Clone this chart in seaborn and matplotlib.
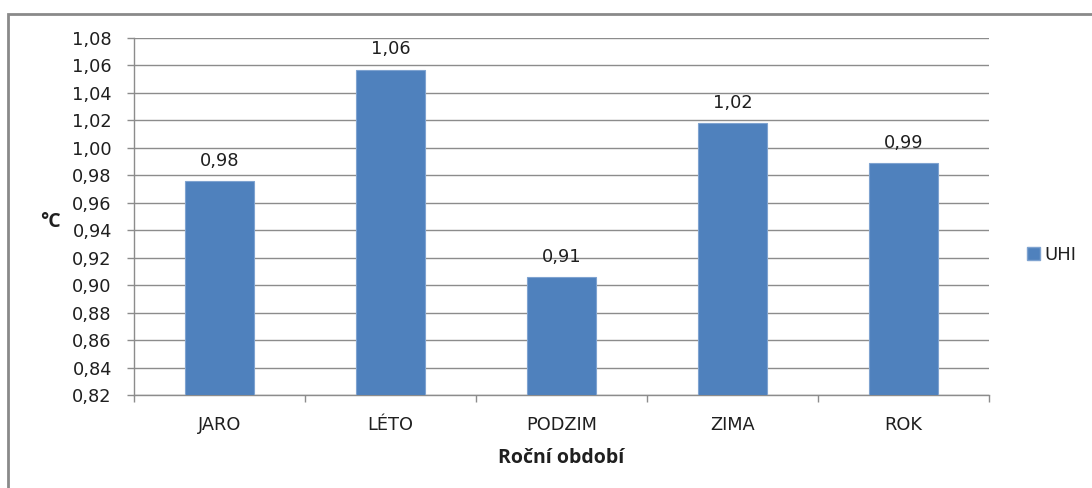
import matplotlib
matplotlib.use("Agg")
import matplotlib.pyplot as plt
import matplotlib.patches as mpatches
from matplotlib.ticker import FixedLocator, FuncFormatter
import seaborn as sns
import pandas as pd

# Seasonal urban heat island intensity (°C)
seasons = ["JARO", "LÉTO", "PODZIM", "ZIMA", "ROK"]
uhi_values = [0.976, 1.057, 0.906, 1.018, 0.989]
series_name = "UHI"
y_ticks = [0.82, 0.84, 0.86, 0.88, 0.90, 0.92, 0.94, 0.96, 0.98, 1.00, 1.02, 1.04, 1.06, 1.08]

df = pd.DataFrame({"season": seasons, "value": uhi_values})

sns.set_theme(style="white")
plt.rcParams["font.family"] = ["DejaVu Sans"]

BAR = "#4F81BD"
GRID = "#8C8C8C"
TEXT = "#1f1f1f"
FS = 12.8

fig = plt.figure(figsize=(10.92, 4.88), dpi=100)
ax = fig.add_axes([0.1227, 0.1906, 0.7830, 0.7316])

sns.barplot(data=df, x="season", y="value", color=BAR, width=0.4,
            saturation=1, edgecolor="#7FA3D0", linewidth=0.8, ax=ax, zorder=3)

ax.set_ylim(y_ticks[0], y_ticks[-1])
ax.set_xlim(-0.5, len(seasons) - 0.5)
ax.yaxis.set_major_locator(FixedLocator(y_ticks))
ax.yaxis.set_major_formatter(FuncFormatter(lambda v, p: f"{v:.2f}".replace(".", ",")))
ax.yaxis.grid(True, color=GRID, linewidth=1.0, zorder=0)
ax.set_axisbelow(True)

for side in ["top", "right"]:
    ax.spines[side].set_visible(False)
for side in ["left", "bottom"]:
    ax.spines[side].set_color(GRID)
    ax.spines[side].set_linewidth(1.0)

ax.tick_params(axis="y", which="major", left=True, length=5, width=1, color=GRID,
               pad=11, labelsize=FS, labelcolor=TEXT)
# category ticks sit between the bars
ax.xaxis.set_minor_locator(FixedLocator([i - 0.5 for i in range(len(seasons) + 1)]))
ax.tick_params(axis="x", which="minor", bottom=True, length=5, width=1, color=GRID)
ax.tick_params(axis="x", which="major", bottom=False, length=0, pad=15,
               labelsize=FS, labelcolor=TEXT)

# value labels above bars
for i, v in enumerate(uhi_values):
    ax.annotate(f"{v:.2f}".replace(".", ","), (i, v), xytext=(0, 8),
                textcoords="offset points", ha="center", va="bottom",
                fontsize=FS, color=TEXT)

ax.set_xlabel("Roční období", fontsize=14, fontweight="bold", color=TEXT,
              family=["Open Sans", "DejaVu Sans"], va="center")
ax.xaxis.set_label_coords(0.5, -0.176)
ax.set_ylabel("°C", fontsize=14, fontweight="bold", color=TEXT, rotation=0,
              family=["Open Sans", "DejaVu Sans"], va="center", ha="center")
ax.yaxis.set_label_coords(-0.098, 0.485)

handle = mpatches.Patch(facecolor=BAR, edgecolor="#7FA3D0", label=series_name)
leg = fig.legend(handles=[handle], loc="center left", bbox_to_anchor=(0.932, 0.477),
                 frameon=False, fontsize=13, handlelength=0.72, handleheight=0.72,
                 handletextpad=0.25, borderpad=0)
for t in leg.get_texts():
    t.set_color(TEXT)

# chart-area border
border = mpatches.Rectangle((8 / 1092, -0.05), 1.2, 1 - 14 / 488 + 0.05,
                            transform=fig.transFigure, fill=False,
                            edgecolor="#8A8A8A", linewidth=2)
fig.add_artist(border)

fig.savefig("out.png", dpi=100)
